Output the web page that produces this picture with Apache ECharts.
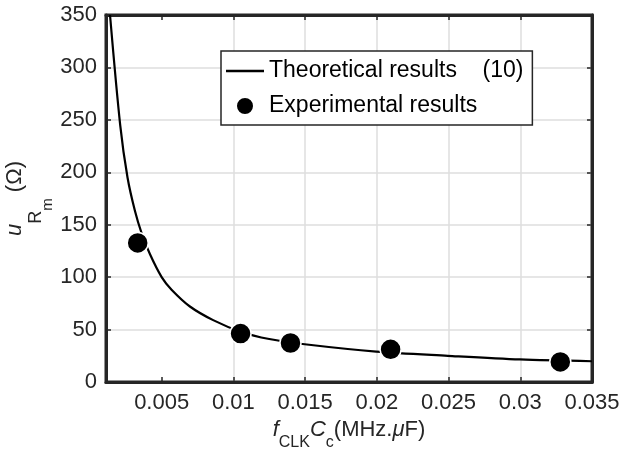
<!DOCTYPE html>
<html>
<head>
<meta charset="utf-8">
<script src="https://cdn.jsdelivr.net/npm/echarts@6/dist/echarts.min.js"></script>
<style>
  html, body { margin: 0; padding: 0; background: #fff; }
  #chart { width: 638px; height: 451px; }
</style>
</head>
<body>
<div id="chart"></div>
<script>
// theoretical curve (10)
var curveX = [0.00140, 0.00211, 0.00262, 0.00314, 0.00360, 0.00418, 0.00500, 0.00569, 0.00697, 0.00859, 0.0105, 0.0125, 0.01497, 0.01996, 0.02495, 0.02998, 0.035];
var curveY = [350, 245, 195, 163, 142, 122, 100, 88, 72, 59, 48, 41, 36, 29, 25, 21.5, 19.8];
// measured points
var expX = [0.00333, 0.0105, 0.01398, 0.02096, 0.03279];
var expY = [132.6, 46.2, 37.2, 31.2, 19.1];
// axis ticks
var xTicks = [0.005, 0.01, 0.015, 0.02, 0.025, 0.03, 0.035];
var xMin = 0.00112, xMax = 0.035;

var ink = '#262626';
var font = 'Liberation Sans, Arial, sans-serif';

var curveData = [];
for (var i = 0; i < curveX.length; i++) curveData.push([curveX[i], curveY[i]]);
var expData = [];
for (var i = 0; i < expX.length; i++) expData.push([expX[i], expY[i]]);

var myChart = echarts.init(document.getElementById('chart'), null, {renderer: 'canvas'});

function axisLine() {
    return {show: true, onZero: false, lineStyle: {color: ink, width: 3}};
}
function splitLine(show) {
    return {show: show, showMinLine: false, showMaxLine: false, lineStyle: {color: '#dedede', width: 1.5}};
}

// top / right axes only close the box
var boxAxisX = {
    type: 'value', min: xMin, max: xMax, position: 'top',
    axisLine: axisLine(),
    axisTick: {show: true, inside: true, length: 5, customValues: xTicks, lineStyle: {color: ink, width: 1.5}},
    splitLine: {show: false},
    axisLabel: {show: false}
};
var boxAxisY = {
    type: 'value', min: 0, max: 350, interval: 50, position: 'right',
    axisLine: axisLine(),
    axisTick: {show: true, inside: true, length: 5, lineStyle: {color: ink, width: 1.5}},
    splitLine: {show: false},
    axisLabel: {show: false}
};

var legendNames = ['Theoretical results    (10)', 'Experimental results'];

option = {
    animation: false,
    backgroundColor: '#fff',
    textStyle: {fontFamily: font},
    grid: {
        left: 106, right: 46, top: 15, bottom: 69,
        containLabel: false, outerBoundsMode: 'none',
        show: true, borderColor: ink, borderWidth: 3, backgroundColor: 'transparent'
    },
    legend: {
        orient: 'vertical',
        left: 221, top: 51,
        padding: [8, 9, 7, 5],
        itemGap: 11,
        itemWidth: 38, itemHeight: 18,
        backgroundColor: '#fff',
        borderColor: ink, borderWidth: 1.5, borderRadius: 0,
        textStyle: {fontFamily: font, fontSize: 23, color: '#000', lineHeight: 24},
        data: [
            {name: legendNames[0], icon: 'path://M0,0 M38,18 M0,7.8 L38,7.8 L38,10.2 L0,10.2 Z', itemStyle: {color: '#000', borderWidth: 0}},
            {name: legendNames[1], icon: 'circle'}
        ]
    },
    xAxis: [{
        type: 'value', min: xMin, max: xMax, position: 'bottom',
        name: '{i|f}{s|CLK}{i|C}{s|c}{n|(MHz.}{mu|μ}{n|F)}',
        nameLocation: 'middle', nameGap: 26, nameMoveOverlap: false,
        nameTextStyle: {
            rich: {
                i: {fontFamily: font, fontSize: 22, fontStyle: 'italic', color: ink},
                s: {fontFamily: font, fontSize: 16, color: ink, padding: [27, 0, 0, 0]},
                n: {fontFamily: font, fontSize: 22, color: ink},
                mu: {fontFamily: font, fontSize: 22, fontStyle: 'italic', color: ink}
            }
        },
        axisLine: axisLine(),
        axisTick: {show: true, inside: true, length: 5, customValues: xTicks, lineStyle: {color: ink, width: 1.5}},
        axisLabel: {
            customValues: xTicks, margin: 10,
            fontFamily: font, fontSize: 22, color: ink,
            formatter: function (v) { return String(+v.toFixed(3)); }
        },
        splitLine: splitLine(true)
    }, boxAxisX],
    yAxis: [{
        type: 'value', min: 0, max: 350, interval: 50, position: 'left',
        name: '{i|u}{r|R}{m|m}{n| (Ω)}',
        nameLocation: 'middle', nameGap: 51, nameMoveOverlap: false,
        nameTextStyle: {
            rich: {
                i: {fontFamily: font, fontSize: 22, fontStyle: 'italic', color: ink},
                r: {fontFamily: font, fontSize: 18, color: ink, padding: [43, 0, 0, 0]},
                m: {fontFamily: font, fontSize: 15, color: ink, padding: [65, 0, 0, 0]},
                n: {fontFamily: font, fontSize: 22, color: ink}
            }
        },
        axisLine: axisLine(),
        axisTick: {show: true, inside: true, length: 5, lineStyle: {color: ink, width: 1.5}},
        axisLabel: {margin: 9, fontFamily: font, fontSize: 22, color: ink},
        splitLine: splitLine(true)
    }, boxAxisY],
    series: [{
        name: legendNames[0],
        type: 'line',
        data: curveData,
        symbol: 'none',
        smooth: 0.3,
        clip: true,
        lineStyle: {color: '#000', width: 2.2},
        itemStyle: {color: '#000'},
        z: 3
    }, {
        name: legendNames[1],
        type: 'scatter',
        data: expData,
        symbol: 'circle',
        symbolSize: 21,
        itemStyle: {color: '#000', borderColor: '#fff', borderWidth: 1.5, opacity: 1},
        z: 4
    }]
};

myChart.setOption(option);
</script>
</body>
</html>
